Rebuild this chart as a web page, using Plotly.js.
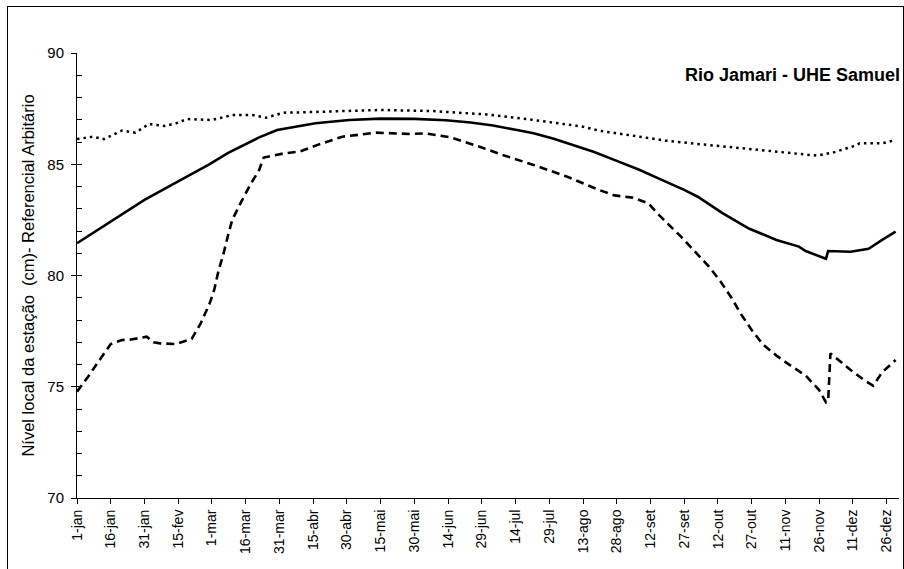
<!DOCTYPE html>
<html>
<head>
<meta charset="utf-8">
<script src="https://cdn.plot.ly/plotly-3.0.1.min.js"></script>
<style>
  html, body { margin: 0; padding: 0; background: #fff; }
  #wrap { position: relative; width: 904px; height: 569px; overflow: hidden; }
  #chart { position: absolute; left: 0; top: 0; width: 904px; height: 569px; }
  #frame { position: absolute; left: 7px; top: 6px; width: 895px; height: 580px; border: 1px solid #000; pointer-events: none; }
</style>
</head>
<body>
<div id="wrap">
  <div id="chart"></div>
  <div id="frame"></div>
</div>
<script>
// Tick positions (day index from 1-jan) and labels
const tickDays = [0, 15, 30, 45, 60, 75, 90, 105, 120, 135, 150, 165, 180, 195, 210, 225, 240, 255, 270, 285, 300, 315, 330, 345, 360];
const tickLabels = ["1-jan", "16-jan", "31-jan", "15-fev", "1-mar", "16-mar", "31-mar", "15-abr", "30-abr", "15-mai", "30-mai", "14-jun", "29-jun", "14-jul", "29-jul", "13-ago", "28-ago", "12-set", "27-set", "12-out", "27-out", "11-nov", "26-nov", "11-dez", "26-dez"];

// Mean level (solid line)
const daysMean = [0, 15, 30, 46, 59, 67, 74, 81, 89, 96, 106, 121, 135, 150, 164, 175, 185, 195, 203, 212, 220, 230, 240, 250, 260, 270, 276, 287, 299, 311, 321, 324, 333, 334, 344, 352, 358, 364];
const meanLevel = [81.45, 82.42, 83.4, 84.29, 85.01, 85.5, 85.87, 86.21, 86.54, 86.66, 86.84, 86.99, 87.05, 87.04, 86.98, 86.88, 86.74, 86.55, 86.39, 86.15, 85.87, 85.55, 85.15, 84.75, 84.3, 83.85, 83.54, 82.8, 82.1, 81.6, 81.3, 81.1, 80.75, 81.1, 81.07, 81.2, 81.6, 81.97];

// Minimum level (dashed line)
const daysMin = [0, 5, 10, 15, 20, 24, 31, 34, 37, 44, 51, 55, 59, 61, 63, 65, 67, 69, 73, 77, 81, 83, 92, 99, 107, 114, 118, 124, 133, 148, 155, 166, 179, 188, 203, 218, 225, 232, 239, 247, 254, 258, 263, 269, 275, 281, 286, 291, 295, 300, 305, 311, 317, 324, 330, 333, 334, 335, 344, 350, 354, 358, 364];
const minLevel = [74.78, 75.46, 76.2, 76.92, 77.1, 77.12, 77.25, 77.0, 76.95, 76.92, 77.15, 77.85, 78.75, 79.35, 80.25, 80.92, 81.74, 82.49, 83.31, 84.07, 84.74, 85.3, 85.49, 85.57, 85.87, 86.09, 86.24, 86.31, 86.42, 86.36, 86.39, 86.21, 85.79, 85.46, 84.97, 84.44, 84.15, 83.85, 83.6, 83.5, 83.25, 82.8, 82.3, 81.7, 81.05, 80.4, 79.75, 79.0, 78.3, 77.55, 76.9, 76.4, 75.97, 75.5, 74.85, 74.3, 74.35, 76.5, 75.75, 75.3, 75.05, 75.65, 76.2];

// Maximum level (dotted line)
const daysMax = [0, 7, 12, 20, 26, 32, 39, 44, 49, 60, 69, 78, 84, 92, 99, 121, 135, 158, 182, 203, 225, 232, 247, 262, 277, 292, 306, 321, 329, 336, 345, 348, 358, 364];
const maxLevel = [86.13, 86.24, 86.13, 86.51, 86.42, 86.81, 86.72, 86.84, 87.03, 86.99, 87.21, 87.21, 87.09, 87.32, 87.33, 87.39, 87.44, 87.39, 87.24, 86.99, 86.69, 86.51, 86.27, 86.06, 85.9, 85.76, 85.6, 85.46, 85.39, 85.52, 85.8, 85.94, 85.94, 86.09];

const FONT = "'Liberation Sans', Arial, sans-serif";

const traces = [
  { x: daysMax, y: maxLevel, type: 'scatter', mode: 'lines', line: { color: '#000', width: 2.5, dash: '2.5px,4px' }, hoverinfo: 'skip' },
  { x: daysMean, y: meanLevel, type: 'scatter', mode: 'lines', line: { color: '#000', width: 2.6 }, hoverinfo: 'skip' },
  { x: daysMin, y: minLevel, type: 'scatter', mode: 'lines', line: { color: '#000', width: 2.6, dash: '8px,5px' }, hoverinfo: 'skip' },
  { x: [], y: [], yaxis: 'y2', type: 'scatter', mode: 'lines', hoverinfo: 'skip' }
];

const layout = {
  width: 904, height: 569,
  margin: { l: 77, r: 5, t: 53, b: 71 },
  paper_bgcolor: '#fff', plot_bgcolor: '#fff',
  showlegend: false,
  font: { family: FONT, color: '#000', size: 14 },
  xaxis: {
    range: [0, 365.5],
    tickmode: 'array', tickvals: tickDays, ticktext: tickLabels,
    tickangle: -90, ticks: 'outside', ticklen: 5, tickcolor: '#000', tickwidth: 1,
    showline: true, linecolor: '#000', linewidth: 1,
    showgrid: false, zeroline: false,
    tickfont: { family: FONT, size: 14, color: '#000' }
  },
  yaxis: {
    range: [70, 90], dtick: 5, tick0: 70,
    ticks: 'outside', ticklen: 5, tickcolor: '#000', tickwidth: 1,
    showline: true, linecolor: '#000', linewidth: 1,
    showgrid: false, zeroline: false,
    ticklabelstandoff: 4,
    tickfont: { family: FONT, size: 15, color: '#000' },
    title: { text: 'Nível local da estação  (cm)- Referencial Arbitário', font: { family: FONT, size: 16.5, color: '#000' }, standoff: 8 }
  },
  yaxis2: {
    overlaying: 'y', side: 'left', range: [70, 90], dtick: 1, tick0: 70,
    ticks: 'inside', ticklen: 5, tickcolor: '#000', tickwidth: 1,
    showticklabels: false, showline: false, showgrid: false, zeroline: false
  },
  annotations: [
    { text: '<b>Rio Jamari - UHE Samuel</b>', xref: 'paper', yref: 'paper', x: 1.0, y: 0.95, xanchor: 'right', yanchor: 'middle', xshift: 3, showarrow: false, font: { family: FONT, size: 18, color: '#000' } }
  ]
};

Plotly.newPlot('chart', traces, layout, { staticPlot: true, displayModeBar: false });
</script>
</body>
</html>
